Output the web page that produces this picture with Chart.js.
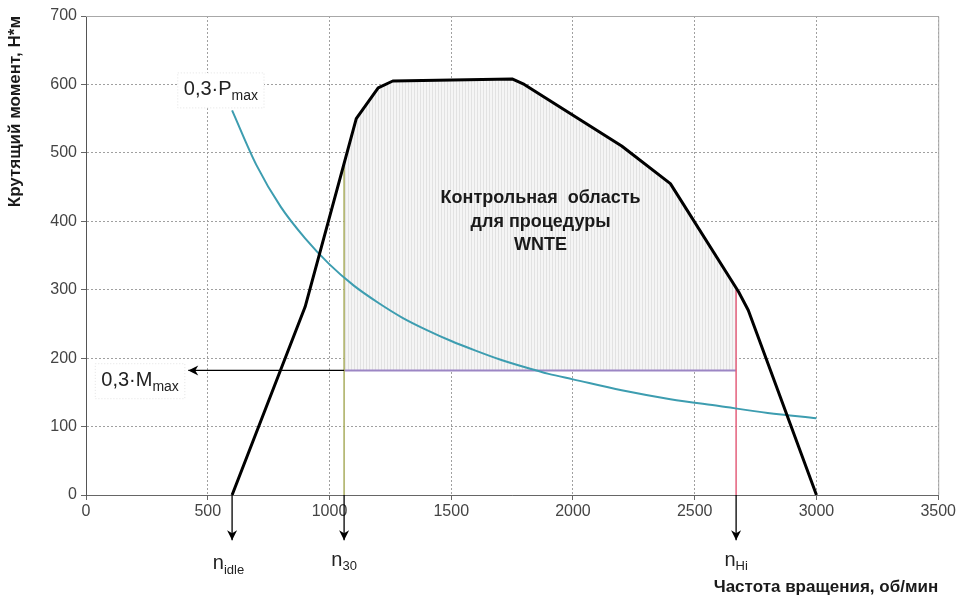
<!DOCTYPE html>
<html lang="ru">
<head>
  <meta charset="UTF-8">
  <title>Контрольная область WNTE</title>
  <script src="https://cdn.jsdelivr.net/npm/chart.js"></script>
  <style>
    html, body { margin: 0; padding: 0; background: #fff; }
    #wrap { width: 958px; height: 598px; }
  </style>
</head>
<body>
  <div id="wrap"><canvas id="chartCanvas"></canvas></div>

  <script>
    // полная характеристика двигателя (крутящий момент)
    const curveRpm    = [600, 900, 1110, 1200, 1260, 1750, 1800, 2200, 2400, 2680, 2720, 3000];
    const curveTorque = [0, 275, 550, 595, 605, 608, 600, 510, 455, 297, 270, 0];

    // кривая 0,3·Pmax
    const powerRpm    = [600, 700, 800, 900, 1000, 1100, 1200, 1300, 1400, 1500, 1600, 1700, 1800, 1900, 2000, 2200, 2400, 2600, 2800, 3000];
    const powerTorque = [562, 482, 421, 375, 337, 306, 281, 259, 241, 225, 211, 198, 187, 177, 169, 153, 140, 130, 120, 112];

    // верхняя граница контрольной области
    const regionRpm = [1060, 1110, 1200, 1260, 1750, 1800, 2200, 2400, 2670];
    const regionTop = [482, 550, 595, 605, 608, 600, 510, 455, 300];

    const torque30 = 182;      // 0,3·Mmax
    const nIdle = 600;
    const n30 = 1060;
    const nHi = 2670;
    const mArrowEnd = 420;     // конец стрелки 0,3·Mmax
    const arrowDepth = -66;    // стрелки под осью

    const xTicks = [0, 500, 1000, 1500, 2000, 2500, 3000, 3500];
    const yTicks = [0, 100, 200, 300, 400, 500, 600, 700];

    const FONT = '"Liberation Sans", Arial, sans-serif';

    const xy = (xs, ys) => xs.map((x, i) => ({ x: x, y: ys[i] }));

    // штриховка области
    const pc = document.createElement('canvas');
    pc.width = 3; pc.height = 3;
    const pctx = pc.getContext('2d');
    pctx.fillStyle = '#f5f5f5'; pctx.fillRect(0, 0, 3, 3);
    pctx.fillStyle = '#e2e2e2'; pctx.fillRect(0, 0, 1, 3);
    const stripes = pctx.createPattern(pc, 'repeat');

    function arrow(data) {
      return {
        data: data, borderColor: '#000', borderWidth: 1.3, pointRadius: 0,
        clip: false, fill: false, arrowHead: true
      };
    }

    function subText(ctx, main, sub, cx, cy, size, ss, box) {
      ctx.font = size + 'px ' + FONT;
      const w1 = ctx.measureText(main).width;
      ctx.font = ss + 'px ' + FONT;
      const w2 = ctx.measureText(sub).width;
      const x0 = cx - (w1 + w2) / 2;
      if (box) {
        ctx.fillStyle = '#fff';
        ctx.fillRect(x0 - 6, cy - size * 0.85, w1 + w2 + 12, size * 1.75);
        ctx.setLineDash([1, 2]);
        ctx.strokeStyle = '#e2e2e2';
        ctx.strokeRect(x0 - 6, cy - size * 0.85, w1 + w2 + 12, size * 1.75);
        ctx.setLineDash([]);
      }
      ctx.fillStyle = '#222';
      ctx.textBaseline = 'middle';
      ctx.textAlign = 'left';
      ctx.font = size + 'px ' + FONT;
      ctx.fillText(main, x0, cy);
      ctx.font = ss + 'px ' + FONT;
      ctx.fillText(sub, x0 + w1, cy + size * 0.33);
    }

    const labelsPlugin = {
      id: 'labels',
      beforeDatasetsDraw(chart) {
        const { ctx, chartArea: a } = chart;
        ctx.save();
        ctx.strokeStyle = '#a8a8a8';
        ctx.lineWidth = 1;
        ctx.beginPath();
        ctx.moveTo(a.left, a.top + 0.5); ctx.lineTo(a.right + 0.5, a.top + 0.5);
        ctx.lineTo(a.right + 0.5, a.bottom);
        ctx.stroke();
        ctx.restore();
      },
      afterDatasetsDraw(chart) {
        const { ctx, scales: { x, y } } = chart;
        ctx.save();
        // наконечники стрелок
        chart.data.datasets.forEach((ds, i) => {
          if (!ds.arrowHead) return;
          const pts = chart.getDatasetMeta(i).data;
          const p = pts[pts.length - 1], q = pts[pts.length - 2];
          const ang = Math.atan2(p.y - q.y, p.x - q.x);
          ctx.save();
          ctx.translate(p.x, p.y);
          ctx.rotate(ang);
          ctx.fillStyle = '#000';
          ctx.beginPath();
          ctx.moveTo(0, 0);
          ctx.lineTo(-10, -5);
          ctx.lineTo(-7, 0);
          ctx.lineTo(-10, 5);
          ctx.closePath();
          ctx.fill();
          ctx.restore();
        });

        subText(ctx, '0,3\u00B7P', 'max', x.getPixelForValue(554), y.getPixelForValue(592), 20, 14, true);
        subText(ctx, '0,3\u00B7M', 'max', x.getPixelForValue(222), y.getPixelForValue(167), 20, 14, true);
        subText(ctx, 'n', 'idle', x.getPixelForValue(nIdle - 15), y.getPixelForValue(-100), 20, 13, false);
        subText(ctx, 'n', '30', x.getPixelForValue(n30), y.getPixelForValue(-95), 20, 13, false);
        subText(ctx, 'n', 'Hi', x.getPixelForValue(nHi), y.getPixelForValue(-95), 20, 13, false);

        ctx.fillStyle = '#1a1a1a';
        ctx.font = 'bold 18px ' + FONT;
        ctx.textAlign = 'center';
        ctx.textBaseline = 'middle';
        const cx = x.getPixelForValue(1867);
        ctx.fillText('Контрольная  область', cx, y.getPixelForValue(434));
        ctx.fillText('для процедуры', cx, y.getPixelForValue(399));
        ctx.fillText('WNTE', cx, y.getPixelForValue(366));
        ctx.restore();
      }
    };

    new Chart(document.getElementById('chartCanvas'), {
      type: 'line',
      data: {
        datasets: [
          { data: xy(curveRpm, curveTorque), borderColor: '#000', borderWidth: 3, pointRadius: 0, fill: false, borderJoinStyle: 'round' },
          { data: xy(powerRpm, powerTorque), borderColor: '#3d9db0', borderWidth: 2, pointRadius: 0, fill: false, cubicInterpolationMode: 'monotone' },
          arrow([{ x: nIdle, y: 0 }, { x: nIdle, y: arrowDepth }]),
          arrow([{ x: n30, y: 0 }, { x: n30, y: arrowDepth }]),
          arrow([{ x: nHi, y: 0 }, { x: nHi, y: arrowDepth }]),
          arrow([{ x: n30, y: torque30 }, { x: mArrowEnd, y: torque30 }]),
          { data: [{ x: n30, y: 0 }, { x: n30, y: regionTop[0] }], borderColor: '#a9ad5e', borderWidth: 1.5, pointRadius: 0, fill: false },
          { data: [{ x: nHi, y: 0 }, { x: nHi, y: regionTop[regionTop.length - 1] }], borderColor: '#e4607c', borderWidth: 1.5, pointRadius: 0, fill: false },
          { data: [{ x: n30, y: torque30 }, { x: nHi, y: torque30 }], borderColor: '#9c86c4', borderWidth: 2, pointRadius: 0, fill: false },
          { data: xy(regionRpm, regionTop), borderWidth: 0, borderColor: 'rgba(0,0,0,0)', pointRadius: 0, backgroundColor: stripes, fill: { value: torque30 } }
        ]
      },
      options: {
        responsive: true,
        maintainAspectRatio: false,
        animation: false,
        layout: { padding: { top: 16, right: 19, left: 0, bottom: 0 } },
        plugins: { legend: { display: false }, tooltip: { enabled: false } },
        scales: {
          x: {
            type: 'linear', min: 0, max: 3500,
            afterBuildTicks: s => { s.ticks = xTicks.map(v => ({ value: v })); },
            afterFit: s => { s.height = 103; },
            grid: { color: '#a0a0a0', tickColor: '#666', tickLength: 5, tickBorderDash: [] },
            border: { color: '#666', dash: [2, 2] },
            ticks: { color: '#444', font: { family: FONT, size: 16 }, padding: 2, maxRotation: 0, callback: v => String(v) },
            title: { display: true, text: 'Частота вращения, об/мин', align: 'end', color: '#1a1a1a', font: { family: FONT, size: 17, weight: 'bold' }, padding: { top: 4, bottom: 0 } }
          },
          y: {
            type: 'linear', min: 0, max: 700,
            afterBuildTicks: s => { s.ticks = yTicks.map(v => ({ value: v })); },
            afterFit: s => { s.width = 86; },
            grid: { color: '#a0a0a0', tickColor: '#666', tickLength: 5, tickBorderDash: [] },
            border: { color: '#555', dash: [2, 2] },
            ticks: { color: '#444', font: { family: FONT, size: 16 }, padding: 4, callback: v => String(v) },
            title: { display: true, text: 'Крутящий момент, Н*м', align: 'end', color: '#1a1a1a', font: { family: FONT, size: 17, weight: 'bold' }, padding: { top: 5, bottom: 4 } }
          }
        }
      },
      plugins: [labelsPlugin]
    });
  </script>
</body>
</html>
